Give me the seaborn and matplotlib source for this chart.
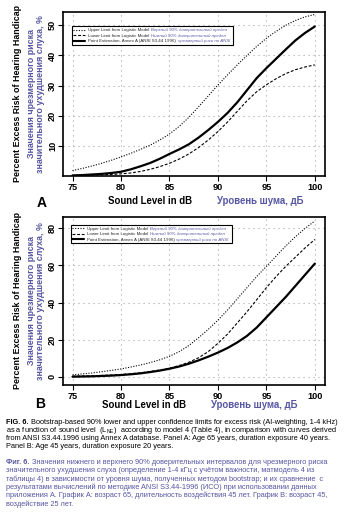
import matplotlib
matplotlib.use("Agg")
import matplotlib.pyplot as plt
import seaborn as sns
import pandas as pd
from matplotlib.lines import Line2D
from matplotlib.patches import Rectangle

# ---------------- data ----------------
db = list(range(75, 101))
a_upper = [1.9, 2.6, 3.4, 4.3, 5.3, 6.4, 7.6, 8.9, 10.3, 12.0, 14.0, 16.5, 19.5, 23.0, 26.6, 30.2,
           33.6, 36.9, 40.0, 43.0, 45.7, 48.0, 50.0, 51.6, 52.8, 53.6]
a_lower = [0.2, 0.3, 0.4, 0.5, 0.6, 0.8, 1.1, 1.6, 2.3, 3.2, 4.3, 5.7, 7.4, 9.5, 12.0, 14.8,
           18.0, 21.5, 25.0, 28.0, 30.3, 32.3, 34.0, 35.3, 36.2, 36.9]
a_point = [0.3, 0.4, 0.6, 0.8, 1.1, 1.5, 2.3, 3.3, 4.4, 5.8, 7.4, 8.9, 10.6, 12.8, 15.3, 18.0,
           21.0, 24.5, 28.5, 32.5, 35.8, 38.9, 42.0, 45.0, 47.5, 49.6]
b_upper = [1.0, 1.5, 2.0, 2.7, 3.4, 4.2, 5.2, 6.3, 7.6, 9.1, 11.0, 13.5, 16.8, 21.0, 25.5, 30.5,
           36.0, 42.0, 48.0, 54.0, 59.5, 65.0, 70.5, 75.5, 80.0, 84.0]
b_lower = [0.3, 0.4, 0.5, 0.7, 0.9, 1.2, 1.6, 2.1, 2.8, 3.6, 4.6, 6.0, 7.8, 10.2, 13.5, 18.0,
           23.0, 29.0, 35.0, 41.5, 48.0, 54.0, 59.5, 64.5, 69.5, 74.0]
b_point = [0.0, 0.1, 0.2, 0.4, 0.6, 0.9, 1.3, 1.8, 2.5, 3.3, 4.3, 5.5, 7.0, 8.8, 10.8, 13.0,
           15.5, 18.5, 22.0, 26.5, 32.0, 37.5, 43.0, 49.0, 55.0, 61.0]

x_ticks = [75, 80, 85, 90, 95, 100]
a_yticks = [10, 20, 30, 40, 50]
b_yticks = [0, 20, 40, 60, 80]

legend_en = ["Upper Limit from Logistic Model", "Lower Limit from Logistic Model",
             "Point Estimation, Annex A (ANSI S3.44 1996)"]
legend_ru = ["Верхний 90% доверительный предел", "Нижний 90% доверительный предел",
             "чрезмерный риск по ANSI"]
ylabel_en = "Percent Excess Risk of Hearing Handicap"
ylabel_ru = ["Значения чрезмерного риска", "значительного ухудшения слуха, %"]
xlabel_en = "Sound Level in dB"
xlabel_ru = "Уровень шума, дБ"
panel_letters = ["A", "B"]

caption_en = [
    [("FIG. 6.", "bold"), (" Bootstrap-based 90% lower and upper confidence limits for excess risk (AI-weighting, 1-4 kHz)", "normal")],
    [("as a function of sound level  (L$_{\\mathregular{NE}}$)  according to model 4 (Table 4), in comparison with curves derived", "normal")],
    [("from ANSI S3.44.1996 using Annex A database. Panel A: Age 65 years, duration exposure 40 years.", "normal")],
    [("Panel B: Age 45 years, duration exposure 20 years.", "normal")],
]
caption_ru = [
    [("Фиг. 6.", "bold"), (" Значения нижнего и верхнего 90% доверительных интервалов для чрезмерного риска", "normal")],
    [("значительного ухудшения слуха (определение 1-4 кГц с учётом важности, матмодель 4 из", "normal")],
    [("таблицы 4) в зависимости от уровня шума, полученных методом bootstrap; и их сравнение  с", "normal")],
    [("результатами вычислений по методике ANSI S3.44-1996 (ИСО) при использовании данных", "normal")],
    [("приложения А. График А: возраст 65, длительность воздействия 45 лет. График В: возраст 45,", "normal")],
    [("воздействие 25 лет.", "normal")],
]

# ---------------- style ----------------
sns.set_theme(style="ticks")
plt.rcParams["font.family"] = ["Liberation Sans", "DejaVu Sans"]
plt.rcParams["mathtext.fontset"] = "custom"
plt.rcParams["mathtext.rm"] = "Liberation Sans"

BLUE = "#5656a2"
W, H = 349, 512
fig = plt.figure(figsize=(W / 100, H / 100), dpi=100)
fig.patch.set_facecolor("white")


def fx(px):
    return px / W


def fy(py):
    return 1 - py / H


panels = [
    dict(upper=a_upper, lower=a_lower, point=a_point, yticks=a_yticks, ylim=(0.2, 54.5),
         top=11.7, bottom=175.7, leg=(71.7, 26.5), xl_y=200.5, xl_en=150, xl_ru=260, let=(42, 203)),
    dict(upper=b_upper, lower=b_lower, point=b_point, yticks=b_yticks, ylim=(-4.2, 86.3),
         top=216.7, bottom=384.5, leg=(70.5, 225), xl_y=405.5, xl_en=144, xl_ru=254, let=(40, 404)),
]

LEFT, RIGHT = 63.3, 325.0
LF = 3.15
UP_LS = (0, (1.0, 1.4))
LO_LS = (0, (2.6, 1.6))

axes = []
for p in panels:
    ax = fig.add_axes([fx(LEFT), fy(p["bottom"]), (RIGHT - LEFT) / W, (p["bottom"] - p["top"]) / H])
    axes.append(ax)
    ax.set_facecolor("white")
    sns.lineplot(x=db, y=p["upper"], ax=ax, color="black", lw=0.8, linestyle=UP_LS, zorder=3)
    sns.lineplot(x=db, y=p["lower"], ax=ax, color="black", lw=0.8, linestyle=LO_LS, zorder=3)
    sns.lineplot(x=db, y=p["point"], ax=ax, color="black", lw=1.6, zorder=3)
    ax.set_xlim(74.05, 101.05)
    ax.set_ylim(*p["ylim"])
    ax.set_xticks(x_ticks)
    ax.set_yticks(p["yticks"])
    ax.set_xticklabels([str(v) for v in x_ticks])
    ax.set_yticklabels([str(v) for v in p["yticks"]])
    ax.grid(True, color="#a8a8a8", linestyle=(0, (1, 3.5)), lw=0.8)
    ax.set_axisbelow(True)
    for s in ax.spines.values():
        s.set_visible(True)
        s.set_color("black")
        s.set_linewidth(1.2)
    ax.tick_params(axis="both", direction="out", length=3.5, width=0.8, color="black",
                   labelsize=6.6, labelcolor="black")
    ax.tick_params(axis="x", pad=2.0)
    ax.tick_params(axis="y", pad=1.0)
    for lbl in ax.get_xticklabels() + ax.get_yticklabels():
        lbl.set_fontweight("bold")
    for lbl in ax.get_yticklabels():
        lbl.set_rotation(90)
        lbl.set_va("center")
        lbl.set_ha("right")
    ax.set_xlabel("")
    ax.set_ylabel("")

    # y-axis label block
    yc = (p["top"] + p["bottom"]) / 2
    fig.text(fx(18), fy(yc), ylabel_en, rotation=90, ha="center", va="center",
             fontsize=6.4, fontweight="bold", color="black")
    fig.text(fx(31.5), fy(yc), ylabel_ru[0], rotation=90, ha="center", va="center",
             fontsize=6.4, fontweight="bold", color=BLUE)
    fig.text(fx(41), fy(yc), ylabel_ru[1], rotation=90, ha="center", va="center",
             fontsize=6.4, fontweight="bold", color=BLUE)
    # x-axis labels
    fig.text(fx(p["xl_en"]), fy(p["xl_y"]), xlabel_en, ha="center", va="center",
             fontsize=6.9, fontweight="bold", color="black")
    fig.text(fx(p["xl_ru"]), fy(p["xl_y"]), xlabel_ru, ha="center", va="center",
             fontsize=6.9, fontweight="bold", color=BLUE)

for p, letter in zip(panels, panel_letters):
    fig.text(fx(p["let"][0]), fy(p["let"][1]), letter, ha="center", va="center",
             fontsize=10, fontweight="heavy", color="black")

# ---------------- legends ----------------
handles = [Line2D([], [], color="black", lw=0.8, linestyle=UP_LS),
           Line2D([], [], color="black", lw=0.8, linestyle=LO_LS),
           Line2D([], [], color="black", lw=1.5)]
legs = []
for ax, p in zip(axes, panels):
    ax_bb = ax.get_position()
    ax0 = ax_bb.x0 * W
    ay1 = (1 - ax_bb.y1) * H
    bx = (p["leg"][0] - ax0) / (ax_bb.width * W)
    by = 1 - (p["leg"][1] - ay1) / (ax_bb.height * H)
    leg = ax.legend(handles, legend_en, loc="upper left", bbox_to_anchor=(bx, by),
                    frameon=False, fontsize=LF, handlelength=2.7, handletextpad=0.7,
                    borderpad=0.4, labelspacing=0.3, borderaxespad=0)
    leg.set_zorder(7)
    legs.append(leg)

fig.canvas.draw()
r = fig.canvas.get_renderer()
for ax, leg in zip(axes, legs):
    inv = ax.transAxes.inverted()
    rus = []
    for t, ru in zip(leg.get_texts(), legend_ru):
        bb = t.get_window_extent(r)
        base = t.get_transform().transform((0, 0))[1]
        pos = inv.transform((bb.x1 + 1.5, base))
        rt = ax.text(pos[0], pos[1], ru, transform=ax.transAxes, ha="left", va="baseline",
                     fontsize=LF, style="italic", color=BLUE, zorder=8)
        rus.append(rt)
    fig.canvas.draw()
    lb = leg.get_window_extent(r)
    x1 = max(rt.get_window_extent(r).x1 for rt in rus) + 3
    (u0, v0) = inv.transform((lb.x0, lb.y0))
    (u1, v1) = inv.transform((x1, lb.y1))
    ax.add_patch(Rectangle((u0, v0), u1 - u0, v1 - v0, transform=ax.transAxes,
                           facecolor="white", edgecolor="black", lw=0.8, zorder=6))

# ---------------- caption ----------------


def write_runs(x_px, y_px, parts, color, size):
    x = x_px
    for s, w in parts:
        t = fig.text(fx(x), fy(y_px), s, ha="left", va="baseline", fontsize=size,
                     fontweight=w, color=color)
        fig.canvas.draw()
        x = t.get_window_extent(r).x1


en_y = [424.0, 432.2, 440.2, 448.2]
for y, parts in zip(en_y, caption_en):
    write_runs(6.5, y, parts, "black", 5.3)
ru_y = [464.0, 472.3, 480.6, 488.9, 497.2, 505.5]
for y, parts in zip(ru_y, caption_ru):
    write_runs(6.5, y, parts, BLUE, 5.35)

fig.savefig("out.png", dpi=100, facecolor="white")
